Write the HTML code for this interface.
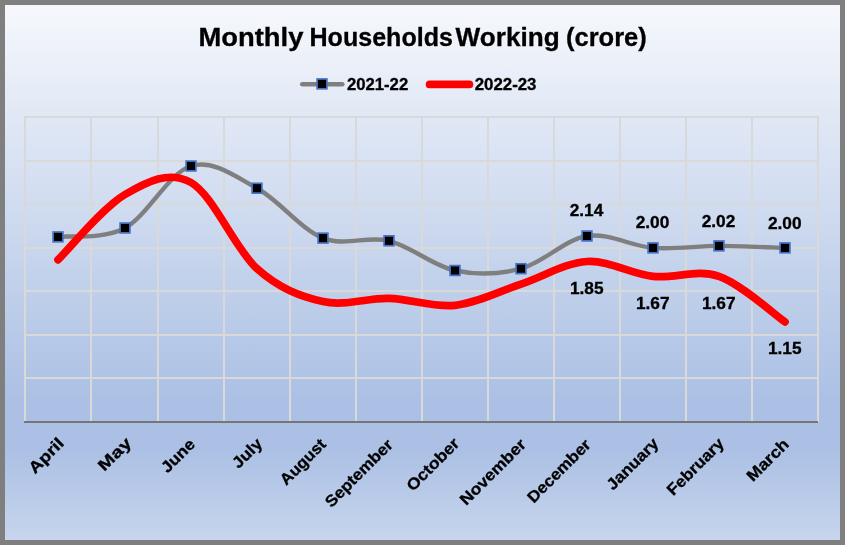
<!DOCTYPE html>
<html><head><meta charset="utf-8"><title>Monthly Households Working (crore)</title>
<style>
html,body{margin:0;padding:0;background:#7f7f7f;}
body{width:845px;height:545px;overflow:hidden;font-family:"Liberation Sans",sans-serif;}
svg{display:block;will-change:transform;}
text{font-family:"Liberation Sans",sans-serif;font-weight:bold;fill:#000;stroke:#000;stroke-width:0.3px;}
</style></head><body>
<svg width="845" height="545" viewBox="0 0 845 545">
<defs>
<linearGradient id="bg" x1="0" y1="0" x2="0" y2="1">
<stop offset="0" stop-color="#F6F8FC"/>
<stop offset="0.74" stop-color="#ABC0E4"/>
<stop offset="0.83" stop-color="#ABC0E4"/>
<stop offset="1" stop-color="#C7D5ED"/>
</linearGradient>
</defs>
<rect x="0" y="0" width="845" height="545" fill="#7f7f7f"/>
<rect x="5" y="5" width="835" height="535" fill="url(#bg)"/>

<g stroke="#D9D9D9" stroke-width="2" fill="none">
<line x1="24" y1="117" x2="819" y2="117"/>
<line x1="24" y1="161" x2="819" y2="161"/>
<line x1="24" y1="204" x2="819" y2="204"/>
<line x1="24" y1="248" x2="819" y2="248"/>
<line x1="24" y1="291" x2="819" y2="291"/>
<line x1="24" y1="335" x2="819" y2="335"/>
<line x1="24" y1="378" x2="819" y2="378"/>
<line x1="25" y1="116" x2="25" y2="422"/>
<line x1="91" y1="116" x2="91" y2="422"/>
<line x1="158" y1="116" x2="158" y2="422"/>
<line x1="224" y1="116" x2="224" y2="422"/>
<line x1="290" y1="116" x2="290" y2="422"/>
<line x1="356" y1="116" x2="356" y2="422"/>
<line x1="422" y1="116" x2="422" y2="422"/>
<line x1="488" y1="116" x2="488" y2="422"/>
<line x1="554" y1="116" x2="554" y2="422"/>
<line x1="620" y1="116" x2="620" y2="422"/>
<line x1="686" y1="116" x2="686" y2="422"/>
<line x1="752" y1="116" x2="752" y2="422"/>
<line x1="818" y1="116" x2="818" y2="422"/>
</g>
<line x1="24" y1="422" x2="818" y2="422" stroke="#767676" stroke-width="2"/>
<path d="M58.00 236.90 C69.17 235.42 102.83 239.82 125.00 228.00 C147.17 216.18 169.00 172.63 191.00 166.00 C213.00 159.37 235.00 176.18 257.00 188.20 C279.00 200.22 301.00 229.33 323.00 238.10 C345.00 246.87 367.00 235.40 389.00 240.80 C411.00 246.20 433.00 265.85 455.00 270.50 C477.00 275.15 499.00 274.45 521.00 268.70 C543.00 262.95 565.00 239.47 587.00 236.00 C609.00 232.53 631.00 246.25 653.00 247.90 C675.00 249.55 697.00 245.90 719.00 245.90 C741.00 245.90 774.00 247.57 785.00 247.90" fill="none" stroke="#7F7F7F" stroke-width="4.4" stroke-linecap="round" stroke-linejoin="round"/>
<path d="M58.00 259.80 C69.17 248.92 102.83 207.38 125.00 194.50 C147.17 181.62 169.00 170.13 191.00 182.50 C213.00 194.87 235.00 248.85 257.00 268.70 C279.00 288.55 301.00 296.67 323.00 301.60 C345.00 306.53 367.00 297.68 389.00 298.30 C411.00 298.92 433.00 307.67 455.00 305.30 C477.00 302.93 499.00 291.40 521.00 284.10 C543.00 276.80 565.00 262.80 587.00 261.50 C609.00 260.20 631.00 273.83 653.00 276.30 C675.00 278.77 697.00 268.70 719.00 276.30 C741.00 283.90 774.00 314.30 785.00 321.90" fill="none" stroke="#FF0000" stroke-width="7.7" stroke-linecap="round" stroke-linejoin="round"/>
<g fill="#000" stroke="#4472C4" stroke-width="1.7">
<rect x="53.10" y="232.00" width="9.8" height="9.8"/>
<rect x="120.10" y="223.10" width="9.8" height="9.8"/>
<rect x="186.10" y="161.10" width="9.8" height="9.8"/>
<rect x="252.10" y="183.30" width="9.8" height="9.8"/>
<rect x="318.10" y="233.20" width="9.8" height="9.8"/>
<rect x="384.10" y="235.90" width="9.8" height="9.8"/>
<rect x="450.10" y="265.60" width="9.8" height="9.8"/>
<rect x="516.10" y="263.80" width="9.8" height="9.8"/>
<rect x="582.10" y="231.10" width="9.8" height="9.8"/>
<rect x="648.10" y="243.00" width="9.8" height="9.8"/>
<rect x="714.10" y="241.00" width="9.8" height="9.8"/>
<rect x="780.10" y="243.00" width="9.8" height="9.8"/>
</g>
<text x="586.50" y="215.90" font-size="16" text-anchor="middle" textLength="33.6" lengthAdjust="spacingAndGlyphs">2.14</text>
<text x="652.50" y="227.80" font-size="16" text-anchor="middle" textLength="33.6" lengthAdjust="spacingAndGlyphs">2.00</text>
<text x="718.50" y="226.80" font-size="16" text-anchor="middle" textLength="33.6" lengthAdjust="spacingAndGlyphs">2.02</text>
<text x="784.70" y="228.70" font-size="16" text-anchor="middle" textLength="33.6" lengthAdjust="spacingAndGlyphs">2.00</text>
<text x="586.70" y="293.50" font-size="16" text-anchor="middle" textLength="33.6" lengthAdjust="spacingAndGlyphs">1.85</text>
<text x="652.70" y="308.60" font-size="16" text-anchor="middle" textLength="33.6" lengthAdjust="spacingAndGlyphs">1.67</text>
<text x="718.70" y="308.60" font-size="16" text-anchor="middle" textLength="33.6" lengthAdjust="spacingAndGlyphs">1.67</text>
<text x="784.70" y="354.10" font-size="16" text-anchor="middle" textLength="33.6" lengthAdjust="spacingAndGlyphs">1.15</text>
<text x="198.40" y="45.70" font-size="25" textLength="105.0" lengthAdjust="spacingAndGlyphs">Monthly</text>
<text x="309.50" y="45.70" font-size="25" textLength="143.4" lengthAdjust="spacingAndGlyphs">Households</text>
<text x="455.60" y="45.70" font-size="25" textLength="104.0" lengthAdjust="spacingAndGlyphs">Working</text>
<text x="566.00" y="45.70" font-size="25" textLength="80.8" lengthAdjust="spacingAndGlyphs">(crore)</text>
<line x1="302.3" y1="84.3" x2="342.3" y2="84.3" stroke="#7F7F7F" stroke-width="4.6" stroke-linecap="round"/>
<rect x="317.1" y="79.0" width="9.8" height="9.8" fill="#000" stroke="#4472C4" stroke-width="1.7"/>
<text x="346.90" y="89.50" font-size="16" textLength="61.3" lengthAdjust="spacingAndGlyphs">2021-22</text>
<line x1="429.6" y1="84.45" x2="469.4" y2="84.45" stroke="#FF0000" stroke-width="7.7" stroke-linecap="round"/>
<text x="474.70" y="89.50" font-size="16" textLength="61.8" lengthAdjust="spacingAndGlyphs">2022-23</text>
<text transform="translate(64.92 444.40) rotate(-45)" x="0" y="0" font-size="16" text-anchor="end" textLength="42.41" lengthAdjust="spacingAndGlyphs">April</text>
<text transform="translate(132.40 444.06) rotate(-45)" x="0" y="0" font-size="16" text-anchor="end" textLength="39.65" lengthAdjust="spacingAndGlyphs">May</text>
<text transform="translate(195.98 445.32) rotate(-45)" x="0" y="0" font-size="16" text-anchor="end" textLength="40.31" lengthAdjust="spacingAndGlyphs">June</text>
<text transform="translate(263.34 444.56) rotate(-45)" x="0" y="0" font-size="16" text-anchor="end" textLength="35.02" lengthAdjust="spacingAndGlyphs">July</text>
<text transform="translate(327.00 445.36) rotate(-45)" x="0" y="0" font-size="16" text-anchor="end" textLength="57.47" lengthAdjust="spacingAndGlyphs">August</text>
<text transform="translate(393.84 445.74) rotate(-45)" x="0" y="0" font-size="16" text-anchor="end" textLength="88.28" lengthAdjust="spacingAndGlyphs">September</text>
<text transform="translate(460.40 444.56) rotate(-45)" x="0" y="0" font-size="16" text-anchor="end" textLength="67.06" lengthAdjust="spacingAndGlyphs">October</text>
<text transform="translate(527.02 445.36) rotate(-45)" x="0" y="0" font-size="16" text-anchor="end" textLength="85.79" lengthAdjust="spacingAndGlyphs">November</text>
<text transform="translate(591.72 445.74) rotate(-45)" x="0" y="0" font-size="16" text-anchor="end" textLength="82.08" lengthAdjust="spacingAndGlyphs">December</text>
<text transform="translate(659.60 444.56) rotate(-45)" x="0" y="0" font-size="16" text-anchor="end" textLength="65.79" lengthAdjust="spacingAndGlyphs">January</text>
<text transform="translate(725.04 444.56) rotate(-45)" x="0" y="0" font-size="16" text-anchor="end" textLength="73.17" lengthAdjust="spacingAndGlyphs">February</text>
<text transform="translate(789.86 445.32) rotate(-45)" x="0" y="0" font-size="16" text-anchor="end" textLength="52.20" lengthAdjust="spacingAndGlyphs">March</text>
</svg></body></html>
